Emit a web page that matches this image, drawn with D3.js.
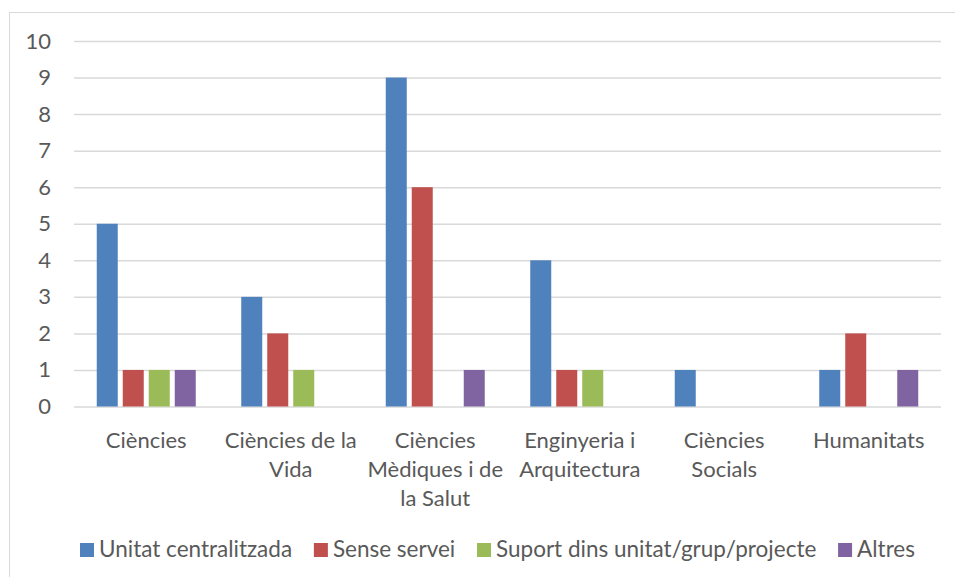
<!DOCTYPE html>
<html><head><meta charset="utf-8">
<script src="https://cdn.jsdelivr.net/npm/d3@7"></script>
<style>
body{margin:0;background:#fff;}
svg text{font-family:Lato,"Open Sans",sans-serif;fill:#595959;}
</style></head>
<body>
<svg id="c" width="955" height="577"></svg>
<script>
const categories = [["Ciències"],["Ciències de la","Vida"],["Ciències","Mèdiques i de","la Salut"],["Enginyeria i","Arquitectura"],["Ciències","Socials"],["Humanitats"]];
const categoryKeys = ["Ciències","Ciències de la Vida","Ciències Mèdiques i de la Salut","Enginyeria i Arquitectura","Ciències Socials","Humanitats"];
const seriesNames = ["Unitat centralitzada","Sense servei","Suport dins unitat/grup/projecte","Altres"];
const unitat = [5,3,9,4,1,1];
const sense = [1,2,6,1,0,2];
const suport = [1,1,0,1,0,0];
const altres = [1,0,1,0,0,1];
const seriesValues = [unitat, sense, suport, altres];
const colors = ["#4f81bd","#c0504d","#9bbb59","#8064a2"];
const yTicks = [0,1,2,3,4,5,6,7,8,9,10];

const FS = 22;
const svg = d3.select("#c");
svg.append("rect").attr("x",9.5).attr("y",12.5).attr("width",1000).attr("height",1000)
  .attr("fill","none").attr("stroke","#d9d9d9").attr("stroke-width",1);

const x0 = d3.scaleBand().domain(categoryKeys).range([74,941]).paddingInner(0).paddingOuter(0);
const x1 = d3.scaleBand().domain(seriesNames).range([-49.5,49.5]).paddingInner(5/26).paddingOuter(0);
const y = d3.scaleLinear().domain([0,10]).range([406.5,41]);

const yAxis = d3.axisLeft(y).tickValues(yTicks).tickSize(-(941-74)).tickPadding(23);
const gy = svg.append("g").attr("transform","translate(74,0)").call(yAxis);
gy.select(".domain").remove();
gy.selectAll(".tick line").attr("stroke","#d9d9d9").attr("stroke-width",1.5);
gy.selectAll(".tick text").attr("font-size",FS).attr("fill","#595959").attr("font-family","Lato");

// bars
seriesNames.forEach((s,si)=>{
  svg.append("g").selectAll("rect").data(seriesValues[si].map((v,i)=>({v,c:categoryKeys[i]})).filter(d=>d.v>0))
    .join("rect")
    .attr("x",d=>x0(d.c)+x0.bandwidth()/2+x1(s))
    .attr("width",x1.bandwidth())
    .attr("y",d=>y(d.v))
    .attr("height",d=>y(0)-y(d.v))
    .attr("fill",colors[si]);
});

// category labels
const gx = svg.append("g");
categories.forEach((lines,i)=>{
  const cx = x0(categoryKeys[i])+x0.bandwidth()/2;
  const t = gx.append("text").attr("text-anchor","middle").attr("font-size",FS);
  lines.forEach((l,j)=>{
    t.append("tspan").attr("x",cx).attr("y",448+29*j).text(l);
  });
});

// legend
const lg = svg.append("g");
const LFS = 22.5;
const texts = [], widths = [];
seriesNames.forEach((s,i)=>{
  const t = lg.append("text").attr("y",557).attr("font-size",LFS).text(s);
  texts.push(t); widths.push(t.node().getComputedTextLength());
});
const targetLeft = 80, targetRight = 915;
const used = widths.reduce((a,b)=>a+b,0) + 4*19;
const gap = (targetRight - targetLeft - used)/3;
let xpos = targetLeft;
seriesNames.forEach((s,i)=>{
  lg.append("rect").attr("x",xpos).attr("y",543).attr("width",14).attr("height",14).attr("fill",colors[i]);
  texts[i].attr("x",xpos+19);
  xpos += 19 + widths[i] + gap;
});
</script>
</body></html>
